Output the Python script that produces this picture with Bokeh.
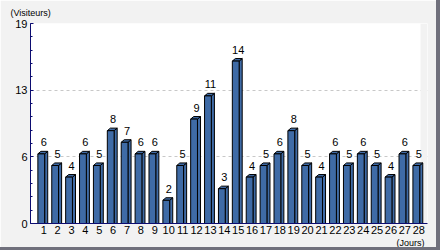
from bokeh.plotting import figure
from bokeh.models import FixedTicker, Range1d, Title, BoxAnnotation, ColumnDataSource, Spacer
from bokeh.layouts import column, row
from bokeh.embed import file_html
from bokeh.resources import INLINE

# ---- data ----
days = list(range(1, 29))
day_labels = [str(d) for d in days]
visitors = [6, 5, 4, 6, 5, 8, 7, 6, 6, 2, 5, 9, 11, 3, 14, 4, 5, 6, 8, 5, 4, 6, 5, 6, 5, 4, 6, 5]
y_tick_labels = ["0", "6", "13", "19"]
y_title = "(Visiteurs)"
x_title = "(Jours)"

# ---- style ----
BLUE = "#3f6ba6"
NAVY = "#0c0c70"
BG = "#f2f2f2"
DARK = "#70707c"
FONT = "'Liberation Sans', sans-serif"
Y_TOP = 17.24
X_START, X_END = 0.05, 28.63

p = figure(frame_width=397, frame_height=200, output_backend="svg", toolbar_location=None,
           x_range=Range1d(X_START, X_END), y_range=Range1d(0, Y_TOP),
           min_border_left=30, min_border_right=9, min_border_top=22, min_border_bottom=20)
p.border_fill_color = BG
p.background_fill_color = "white"
p.outline_line_color = None

# titles placed in side panels
p.add_layout(Title(text=y_title, align="left", offset=-20, standoff=11,
                   text_font_size="9px", text_font=FONT, text_font_style="normal",
                   text_color="black"), "above")
p.add_layout(Title(text=x_title, align="right", offset=3, standoff=-1,
                   text_font_size="9px", text_font=FONT, text_font_style="normal",
                   text_color="black"), "below")

# cover right strip of frame (gray margin beyond plot area)
p.add_layout(BoxAnnotation(left=X_END - 0.5, fill_color=BG, fill_alpha=1.0,
                           line_color=None, level="underlay"))

# bar geometry
FL, FR, DX, DY = -0.42, 0.07, 0.22, 0.22
lefts = [d + FL for d in days]
rights = [d + FR for d in days]
side_xs = [[r, r + DX, r + DX, r] for r in rights]
side_ys = [[0, 0, v + DY, v] for v in visitors]
top_xs = [[l, l + DX, r + DX, r] for l, r in zip(lefts, rights)]
top_ys = [[v, v + DY, v + DY, v] for v in visitors]

p.patches(side_xs, side_ys, fill_color=BLUE, line_color="black", line_width=1)
p.patches(top_xs, top_ys, fill_color=BLUE, line_color="black", line_width=1)
p.quad(left=lefts, right=rights, bottom=0, top=visitors,
       fill_color=BLUE, line_color="black", line_width=1)

src = ColumnDataSource(dict(x=days, y=[v + DY for v in visitors], t=[str(v) for v in visitors]))
p.text(x="x", y="y", text="t", source=src, text_align="center", text_baseline="bottom",
       y_offset=-5, text_font_size="11px", text_color="black", text_font={"value": FONT})

# y axis
yt = [Y_TOP * k / 3 for k in range(4)]
ymin = [Y_TOP * k / 15 for k in range(16)]
p.yaxis.ticker = FixedTicker(ticks=yt, minor_ticks=ymin)
p.yaxis.major_label_overrides = {t: s for t, s in zip(yt, y_tick_labels)}
p.yaxis.axis_line_color = NAVY
p.yaxis.major_tick_line_color = NAVY
p.yaxis.minor_tick_line_color = NAVY
p.yaxis.major_tick_in = 3
p.yaxis.major_tick_out = 0
p.yaxis.minor_tick_in = 2
p.yaxis.minor_tick_out = 0
p.yaxis.major_label_standoff = 3
p.yaxis.major_label_text_font_size = "11px"
p.yaxis.major_label_text_font = FONT
p.yaxis.major_label_text_color = "black"

# x axis
p.xaxis.ticker = FixedTicker(ticks=days)
p.xaxis.major_label_overrides = {d: s for d, s in zip(days, day_labels)}
p.xaxis.axis_line_color = NAVY
p.xaxis.major_tick_line_color = None
p.xaxis.minor_tick_line_color = None
p.xaxis.major_tick_in = 0
p.xaxis.major_tick_out = 0
p.xaxis.major_label_standoff = 2
p.xaxis.major_label_text_font_size = "11px"
p.xaxis.major_label_text_font = FONT
p.xaxis.major_label_text_color = "black"

# grid
p.xgrid.grid_line_color = None
p.ygrid.ticker = FixedTicker(ticks=yt[1:])
p.ygrid.grid_line_color = "#c8c8c8"
p.ygrid.grid_line_dash = "3 3"
p.ygrid.grid_line_width = 1

bottom_strip = Spacer(width=436, height=4, styles={"background-color": DARK})
right_strip = Spacer(width=4, height=250, styles={"background-color": DARK})
layout = row(column(p, bottom_strip, spacing=0), right_strip, spacing=0)
open("out.html", "w").write(file_html(layout, INLINE))
